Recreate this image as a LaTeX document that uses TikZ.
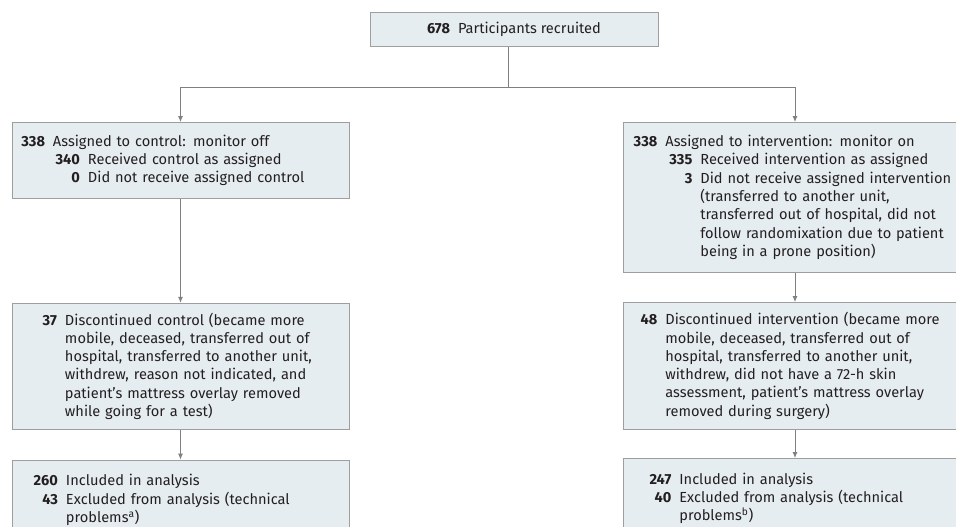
\documentclass[tikz,border=0pt]{standalone}
\usepackage{fontspec}
\setmainfont{Fira Sans}
\usetikzlibrary{positioning, arrows.meta}
\definecolor{box-fill}{RGB}{230,237,241}
\definecolor{box-line}{RGB}{158,158,158}
\definecolor{arr-line}{RGB}{128,128,128}
\definecolor{txt}{RGB}{35,31,32}
\newcommand{\cnt}[3]{{\leftskip=#1\noindent\llap{\textbf{#2}\hspace{8pt}}#3\par}}

\begin{document}
\begin{tikzpicture}
    [x=1pt, y=-1pt,
    box/.style = {rectangle, draw=box-line, fill=box-fill, line width=0.8pt, align=left,
            inner xsep=0pt, inner ysep=4pt, text=txt, font=\fontsize{14.6}{18.3}\selectfont},
    arr/.style = {draw=arr-line, line width=0.8pt, -{Latex[length=6pt,width=5pt]}},
    ]
    \useasboundingbox (0,0) rectangle (956,527);
    \clip (0,0) rectangle (956,527);

	\node[box, anchor=north, minimum width=288pt, minimum height=34pt, align=center] (recruit) at (514,12) {\textbf{678}\hspace{8pt}Participants recruited};

	% control arm
	\node[box, anchor=north, text width=337pt, minimum height=76pt] (ctrl-assign) at (180.5,122) {%
		\cnt{41pt}{338}{Assigned to control: monitor off}
		\cnt{76pt}{340}{Received control as assigned}
		\cnt{76pt}{0}{Did not receive assigned control}};
	\node[box, text width=337pt, minimum height=126pt, below=104pt of ctrl-assign] (ctrl-stop) {%
		\cnt{53pt}{37}{Discontinued control (became more\newline mobile, deceased, transferred out of\newline hospital, transferred to another unit,\newline withdrew, reason not indicated, and\newline patient’s mattress overlay removed\newline while going for a test)}};
	\node[box, text width=337pt, minimum height=80pt, below=30pt of ctrl-stop] (ctrl-anal) {%
		\cnt{54pt}{260}{Included in analysis}
		\cnt{54pt}{43}{Excluded from analysis (technical\newline problems\textsuperscript{a})}};

	% intervention arm
	\node[box, anchor=north west, text width=400pt, minimum height=150pt] (int-assign) at (623,122) {%
		\cnt{42pt}{338}{Assigned to intervention: monitor on}
		\cnt{77pt}{335}{Received intervention as assigned}
		\cnt{77pt}{3}{Did not receive assigned intervention\newline (transferred to another unit,\newline transferred out of hospital, did not\newline follow randomixation due to patient\newline being in a prone position)}};
	\node[box, anchor=north west, text width=400pt, minimum height=127pt] (int-stop) at (623,302) {%
		\cnt{42pt}{48}{Discontinued intervention (became more\newline mobile, deceased, transferred out of\newline hospital, transferred to another unit,\newline withdrew, did not have a 72-h skin\newline assessment, patient’s mattress overlay\newline removed during surgery)}};
	\node[box, anchor=north west, text width=400pt, minimum height=80pt] (int-anal) at (623,458) {%
		\cnt{56pt}{247}{Included in analysis}
		\cnt{56pt}{40}{Excluded from analysis (technical\newline problems\textsuperscript{b})}};

	\coordinate (split) at (508,87);
	\coordinate (ctrl-col) at (180.5,87);
	\coordinate (int-col) at (795,87);

	\draw[arr-line, line width=0.8pt] (recruit.south -| split) -- (split);
	\draw[arr-line, line width=0.8pt] (ctrl-col) -- (int-col);
	\draw[arr] (ctrl-col) -- (ctrl-assign);
	\draw[arr] (int-col) -- (int-assign.north -| int-col);

	\draw[arr] (ctrl-assign) -- (ctrl-stop);
	\draw[arr] (ctrl-stop) -- (ctrl-anal);
	\draw[arr] (int-assign.south -| int-col) -- (int-stop.north -| int-col);
	\draw[arr] (int-stop.south -| int-col) -- (int-anal.north -| int-col);
\end{tikzpicture}
\end{document}
